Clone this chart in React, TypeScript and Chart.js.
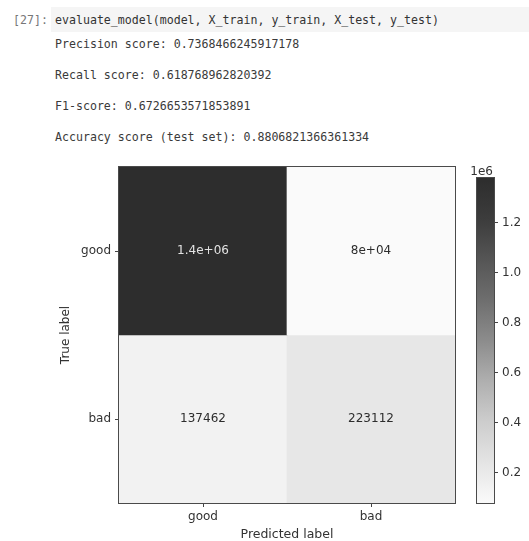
import React, { useEffect, useRef } from 'react';
import { Chart, registerables } from 'chart.js';

Chart.register(...registerables);

// ---- data ----
const PROMPT = '[27]:';
const CODE_LINE = 'evaluate_model(model, X_train, y_train, X_test, y_test)';
const OUTPUT_LINES = [
  'Precision score: 0.7368466245917178',
  'Recall score: 0.618768962820392',
  'F1-score: 0.6726653571853891',
  'Accuracy score (test set): 0.8806821366361334',
];
const TRUE_LABELS = ['good', 'bad'];
const PRED_LABELS = ['good', 'bad'];
const ROW_GOOD = [1379615, 79681];
const ROW_BAD = [137462, 223112];
const ROWS = [ROW_GOOD, ROW_BAD];
const COLORBAR_TICKS = [200000, 400000, 600000, 800000, 1000000, 1200000];
const COLORBAR_OFFSET = '1e6';
const X_TITLE = 'Predicted label';
const Y_TITLE = 'True label';

// grey colormap (as it appears in the screenshot): light -> dark
const GREY_STOPS = [250, 228, 205, 175, 140, 110, 85, 60, 45];

const FONT = 'DejaVu Sans';
const MONO = '"DejaVu Sans Mono", monospace';
const INK = '#333333';

function grey(t: number): string {
  const tt = Math.max(0, Math.min(1, t));
  const n = GREY_STOPS.length - 1;
  const p = tt * n;
  const i = Math.min(Math.floor(p), n - 1);
  const f = p - i;
  const g = Math.round(GREY_STOPS[i] + (GREY_STOPS[i + 1] - GREY_STOPS[i]) * f);
  return `rgb(${g},${g},${g})`;
}

function fmtG2(v: number): string {
  if (v === 0) return '0';
  const exp = Math.floor(Math.log10(Math.abs(Number(v.toPrecision(2)))));
  if (exp < -4 || exp >= 2) {
    const s = v.toExponential(1);
    let [m, e] = s.split('e');
    if (m.includes('.')) m = m.replace(/0+$/, '').replace(/\.$/, '');
    const sign = e[0];
    let digits = e.slice(1);
    if (digits.length < 2) digits = '0' + digits;
    return m + 'e' + sign + digits;
  }
  let s = v.toPrecision(2);
  if (s.includes('.')) s = s.replace(/0+$/, '').replace(/\.$/, '');
  return s;
}

function fmtCell(v: number): string {
  const d = String(Math.round(v));
  const g = fmtG2(v);
  return d.length < g.length ? d : g;
}

const ALL = ROWS.flat();
const VMIN = Math.min(...ALL);
const VMAX = Math.max(...ALL);
const norm = (v: number) => (v - VMIN) / (VMAX - VMIN);

export default function App() {
  const mainRef = useRef<HTMLCanvasElement | null>(null);
  const cbRef = useRef<HTMLCanvasElement | null>(null);

  useEffect(() => {
    if (!mainRef.current || !cbRef.current) return;

    const boxPlugin = {
      id: 'box',
      afterDatasetsDraw(chart: any) {
        const { ctx, chartArea: a } = chart;
        ctx.save();
        ctx.strokeStyle = '#4a4a4a';
        ctx.lineWidth = 1;
        ctx.strokeRect(Math.round(a.left) - 0.5, Math.round(a.top) - 0.5, Math.round(a.right - a.left) + 1, Math.round(a.bottom - a.top) + 1);
        ctx.restore();
      },
    };

    const thresh = (VMAX + VMIN) / 2;
    const cellTextPlugin = {
      id: 'cellText',
      afterDatasetsDraw(chart: any) {
        const { ctx } = chart;
        ctx.save();
        ctx.font = `12px "${FONT}"`;
        ctx.textAlign = 'center';
        ctx.textBaseline = 'middle';
        chart.data.datasets.forEach((_ds: any, di: number) => {
          const meta = chart.getDatasetMeta(di);
          meta.data.forEach((el: any, j: number) => {
            const v = ROWS[di][j];
            const { x, y } = el.getCenterPoint();
            ctx.fillStyle = v < thresh ? grey(1) : '#e2e2e2';
            ctx.fillText(fmtCell(v), x, y);
          });
        });
        ctx.restore();
      },
    };

    const datasets = ROWS.map((row, r) => ({
      label: TRUE_LABELS[r],
      data: row.map(() => [r, r + 1]),
      backgroundColor: row.map((v) => grey(norm(v))),
      borderWidth: 0,
      grouped: false,
      barPercentage: 1,
      categoryPercentage: 1,
    }));

    const main = new Chart(mainRef.current, {
      type: 'bar',
      data: { labels: PRED_LABELS, datasets: datasets as any },
      options: {
        responsive: false,
        animation: false,
        layout: { padding: { top: 17, right: 5, bottom: 0, left: 0 } },
        plugins: { legend: { display: false }, tooltip: { enabled: false } },
        scales: {
          x: {
            type: 'category',
            offset: true,
            grid: { offset: false, drawOnChartArea: false, drawTicks: true, tickLength: 4, color: '#444' },
            border: { display: false },
            ticks: { color: INK, font: { family: FONT, size: 12 }, padding: 3, maxRotation: 0 },
            title: { display: true, text: X_TITLE, color: INK, font: { family: FONT, size: 12.5, lineHeight: 1 }, padding: 0 },
            afterFit: (s: any) => { s.height = 38; },
          },
          y: {
            type: 'linear',
            min: 0,
            max: TRUE_LABELS.length,
            reverse: true,
            afterBuildTicks: (s: any) => { s.ticks = TRUE_LABELS.map((_, i) => ({ value: i + 0.5 })); },
            grid: { drawOnChartArea: false, drawTicks: true, tickLength: 4, color: '#444' },
            border: { display: false },
            ticks: { color: INK, font: { family: FONT, size: 12 }, padding: 4, callback: (_v: any, i: number) => TRUE_LABELS[i] },
            title: { display: true, text: Y_TITLE, color: INK, font: { family: FONT, size: 12, lineHeight: 1.2 }, padding: { top: 58.8, bottom: 0 } },
            afterFit: (s: any) => { s.width = 119; },
          },
        },
      } as any,
      plugins: [boxPlugin, cellTextPlugin],
    });

    const offsetPlugin = {
      id: 'offsetText',
      afterDraw(chart: any) {
        const { ctx, chartArea: a } = chart;
        ctx.save();
        ctx.font = `12px "${FONT}"`;
        ctx.fillStyle = INK;
        ctx.textAlign = 'right';
        ctx.textBaseline = 'alphabetic';
        ctx.fillText(COLORBAR_OFFSET, a.right - 1, a.top - 3);
        ctx.restore();
      },
    };

    const cb = new Chart(cbRef.current, {
      type: 'bar',
      data: {
        labels: [''],
        datasets: [
          {
            data: [[VMIN, VMAX]] as any,
            backgroundColor: (c: any) => {
              const ch = c.chart;
              const a = ch.chartArea;
              if (!a) return grey(0.5);
              const g = ch.ctx.createLinearGradient(0, a.bottom, 0, a.top);
              const n = GREY_STOPS.length - 1;
              GREY_STOPS.forEach((_s, i) => g.addColorStop(i / n, grey(i / n)));
              return g;
            },
            borderWidth: 0,
            barPercentage: 1,
            categoryPercentage: 1,
          },
        ],
      },
      options: {
        responsive: false,
        animation: false,
        layout: { padding: { top: 28, right: 0, bottom: 38, left: 17 } },
        plugins: { legend: { display: false }, tooltip: { enabled: false } },
        scales: {
          x: { display: false },
          y: {
            position: 'right',
            min: VMIN,
            max: VMAX,
            afterBuildTicks: (s: any) => { s.ticks = COLORBAR_TICKS.map((v) => ({ value: v })); },
            grid: { drawOnChartArea: false, drawTicks: true, tickLength: 4, color: '#444' },
            border: { display: false },
            ticks: { color: INK, font: { family: FONT, size: 12 }, padding: 4, callback: (v: any) => (Number(v) / 1e6).toFixed(1) },
            afterFit: (s: any) => { s.width = 35; },
          },
        },
      } as any,
      plugins: [boxPlugin, offsetPlugin],
    });

    return () => {
      main.destroy();
      cb.destroy();
    };
  }, []);

  const lineStyle = (top: number, left: number, color: string): React.CSSProperties => ({
    position: 'absolute',
    top,
    left,
    height: 14,
    lineHeight: '14px',
    fontFamily: MONO,
    fontSize: 11.6,
    color,
    whiteSpace: 'pre',
  });

  return (
    <div style={{ position: 'absolute', left: 0, top: 0, width: 529, height: 541, overflow: 'hidden', background: '#fff' }}>
      <div style={{ position: 'absolute', left: 51, top: 7, width: 478, height: 25, background: '#f5f5f5' }} />
      <div style={lineStyle(13, 13, '#777')}>{PROMPT}</div>
      <div style={lineStyle(13, 55, '#333')}>{CODE_LINE}</div>
      {OUTPUT_LINES.map((t, i) => (
        <div key={i} style={lineStyle(37 + i * 31, 55, '#3a3a3a')}>{t}</div>
      ))}
      <canvas ref={mainRef} width={460} height={391} style={{ position: 'absolute', left: 0, top: 150, width: 460, height: 391 }} />
      <canvas ref={cbRef} width={69} height={391} style={{ position: 'absolute', left: 460, top: 150, width: 69, height: 391 }} />
    </div>
  );
}
